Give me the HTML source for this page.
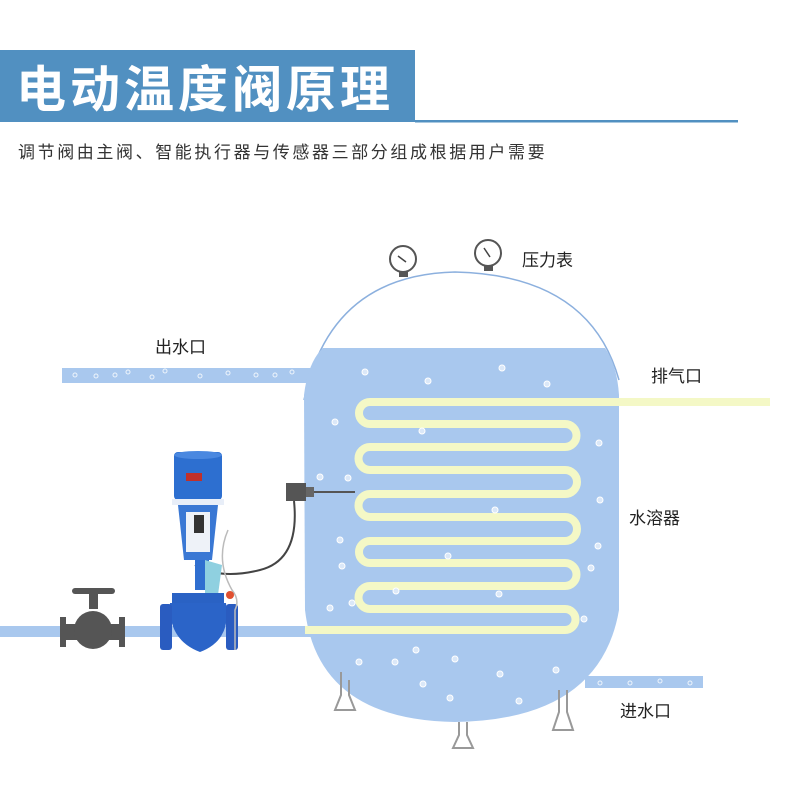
<!DOCTYPE html>
<html><head><meta charset="utf-8"><style>
body{margin:0;width:800px;height:800px;background:#fff;overflow:hidden;font-family:"Liberation Sans","Noto Sans CJK SC",sans-serif}
</style></head><body>
<svg width="800" height="800" viewBox="0 0 800 800" xmlns="http://www.w3.org/2000/svg" style="position:absolute;left:0;top:0">
<rect x="0" y="50" width="415" height="72" fill="#5190c1"/>
<rect x="415" y="120" width="323" height="2.5" fill="#5190c1"/>
<text x="16" y="107" font-size="50" font-weight="bold" fill="#fff" font-family="Noto Sans CJK SC,sans-serif" letter-spacing="4">电动温度阀原理</text>
<text x="18" y="158" font-size="17" fill="#333" font-family="Noto Sans CJK SC,sans-serif" letter-spacing="2.6">调节阀由主阀、智能执行器与传感器三部分组成根据用户需要</text>

<!-- pipes -->
<rect x="62" y="368" width="250" height="15" fill="#a9c8ee"/>
<rect x="0" y="626" width="320" height="11" fill="#a9c8ee"/>
<rect x="585" y="676" width="118" height="12" fill="#a9c8ee"/>
<g fill="none" stroke="#fff" stroke-width="1" opacity="0.8">
<circle cx="75" cy="375" r="2"/><circle cx="96" cy="376" r="2"/><circle cx="115" cy="375" r="2"/><circle cx="128" cy="372" r="2"/><circle cx="152" cy="377" r="2"/><circle cx="165" cy="371" r="2"/><circle cx="200" cy="376" r="2"/><circle cx="228" cy="373" r="2"/><circle cx="256" cy="375" r="2"/><circle cx="275" cy="375" r="2"/><circle cx="292" cy="372" r="2"/>
<circle cx="600" cy="683" r="2"/><circle cx="630" cy="683" r="2"/><circle cx="660" cy="681" r="2"/><circle cx="690" cy="683" r="2"/>
</g>

<!-- tank -->
<path d="M304 400 Q330 275 455 272 Q590 275 619 380" fill="none" stroke="#8cb0de" stroke-width="1.5"/>
<path d="M323 348 L605 348 Q617 365 619 395 L619 610 Q600 720 455 722 Q318 720 305 610 L304 395 Q308 362 323 348 Z" fill="#a9c8ee"/>
<!-- gauges -->
<g stroke="#555" stroke-width="2" fill="#fff">
<circle cx="403" cy="259" r="13"/><circle cx="488" cy="253" r="13"/>
</g>
<rect x="399" y="272" width="9" height="5" fill="#555"/><rect x="484" y="266" width="9" height="5" fill="#555"/>
<line x1="398" y1="256" x2="406" y2="262" stroke="#444" stroke-width="1.5"/>
<line x1="484" y1="248" x2="490" y2="257" stroke="#444" stroke-width="1.5"/>
<!-- legs -->
<g fill="none" stroke="#999" stroke-width="2">
<path d="M341 672 L341 695 L335 710 L355 710 L349 695 L349 680"/>
<path d="M459 722 L459 735 L453 748 L473 748 L467 735 L467 722"/>
<path d="M559 690 L559 712 L553 730 L573 730 L567 712 L567 690"/>
</g>
<!-- coil -->
<path d="M770 402 L370 402 A11 11 0 0 0 370 424 L565 424 A11.5 11.5 0 0 1 565 447 L370 447 A11.5 11.5 0 0 0 370 470 L565 470 A12 12 0 0 1 565 494 L370 494 A11.5 11.5 0 0 0 370 517 L565 517 A12 12 0 0 1 565 541 L370 541 A11 11 0 0 0 370 563 L565 563 A11.5 11.5 0 0 1 565 586 L370 586 A11.5 11.5 0 0 0 370 609 L565 609 A10.5 10.5 0 0 1 565 630 L305 630" fill="none" stroke="#f4f8c6" stroke-width="8"/>
<!-- bubbles -->
<g fill="#dbe8f8" stroke="#fff" stroke-width="1">
<circle cx="365" cy="372" r="3"/><circle cx="428" cy="381" r="3"/><circle cx="502" cy="368" r="3"/><circle cx="547" cy="384" r="3"/><circle cx="335" cy="422" r="3"/><circle cx="422" cy="431" r="3"/><circle cx="599" cy="443" r="3"/><circle cx="320" cy="477" r="3"/><circle cx="348" cy="478" r="3"/><circle cx="600" cy="500" r="3"/><circle cx="495" cy="510" r="3"/><circle cx="340" cy="540" r="3"/><circle cx="598" cy="546" r="3"/><circle cx="342" cy="566" r="3"/><circle cx="448" cy="556" r="3"/><circle cx="591" cy="568" r="3"/><circle cx="330" cy="608" r="3"/><circle cx="352" cy="603" r="3"/><circle cx="396" cy="591" r="3"/><circle cx="499" cy="594" r="3"/><circle cx="584" cy="619" r="3"/><circle cx="416" cy="650" r="3"/><circle cx="455" cy="659" r="3"/><circle cx="359" cy="662" r="3"/><circle cx="395" cy="662" r="3"/><circle cx="423" cy="684" r="3"/><circle cx="500" cy="674" r="3"/><circle cx="556" cy="670" r="3"/><circle cx="450" cy="698" r="3"/><circle cx="519" cy="701" r="3"/>
</g>
<!-- sensor -->
<rect x="286" y="483" width="20" height="18" fill="#555"/>
<rect x="306" y="487" width="8" height="10" fill="#666"/>
<line x1="314" y1="492" x2="355" y2="492" stroke="#555" stroke-width="2"/>
<path d="M294 501 Q300 560 260 570 Q220 580 195 565" fill="none" stroke="#444" stroke-width="2"/>
<!-- gate valve -->
<g fill="#555">
<rect x="72" y="588" width="43" height="6" rx="3"/>
<rect x="89" y="593" width="9" height="16"/>
<rect x="60" y="617" width="6" height="30"/><rect x="119" y="617" width="6" height="30"/>
<rect x="64" y="624" width="58" height="16"/>
<ellipse cx="93" cy="630" rx="19" ry="19"/>
</g>
<!-- electric valve -->
<rect x="174" y="452" width="48" height="48" rx="4" fill="#2d6fd0"/>
<ellipse cx="198" cy="455" rx="24" ry="4" fill="#4a88e0"/>
<rect x="186" y="473" width="16" height="8" fill="#c0302a"/>
<rect x="172" y="499" width="52" height="6" fill="#e8eef8"/>
<path d="M178 505 L218 505 L212 560 L184 560 Z" fill="#3a78d4"/>
<rect x="186" y="512" width="24" height="40" fill="#eef2f8"/>
<rect x="194" y="515" width="10" height="18" fill="#333"/>
<rect x="195" y="560" width="14" height="30" fill="#2f6fd0"/>
<path d="M205 560 L222 565 L218 595 L205 595 Z" fill="#8fd0e0"/>
<rect x="172" y="593" width="52" height="10" fill="#2a62c4"/>
<path d="M170 603 L226 603 Q232 640 200 652 Q168 640 170 603 Z" fill="#2b64c8"/>
<rect x="160" y="604" width="12" height="46" rx="3" fill="#2a5cc0"/>
<rect x="226" y="604" width="12" height="46" rx="3" fill="#2a5cc0"/>
<path d="M228 530 Q215 560 232 590 Q240 600 235 610 L235 650" fill="none" stroke="#bbb" stroke-width="1.5"/>
<circle cx="230" cy="595" r="4" fill="#e05030"/>
<!-- labels -->
<g font-size="17" fill="#222" font-family="Noto Sans CJK SC,sans-serif">
<text x="522" y="266">压力表</text>
<text x="155" y="353">出水口</text>
<text x="651" y="382">排气口</text>
<text x="629" y="524">水溶器</text>
<text x="620" y="717">进水口</text>
</g>
</svg>
</body></html>
